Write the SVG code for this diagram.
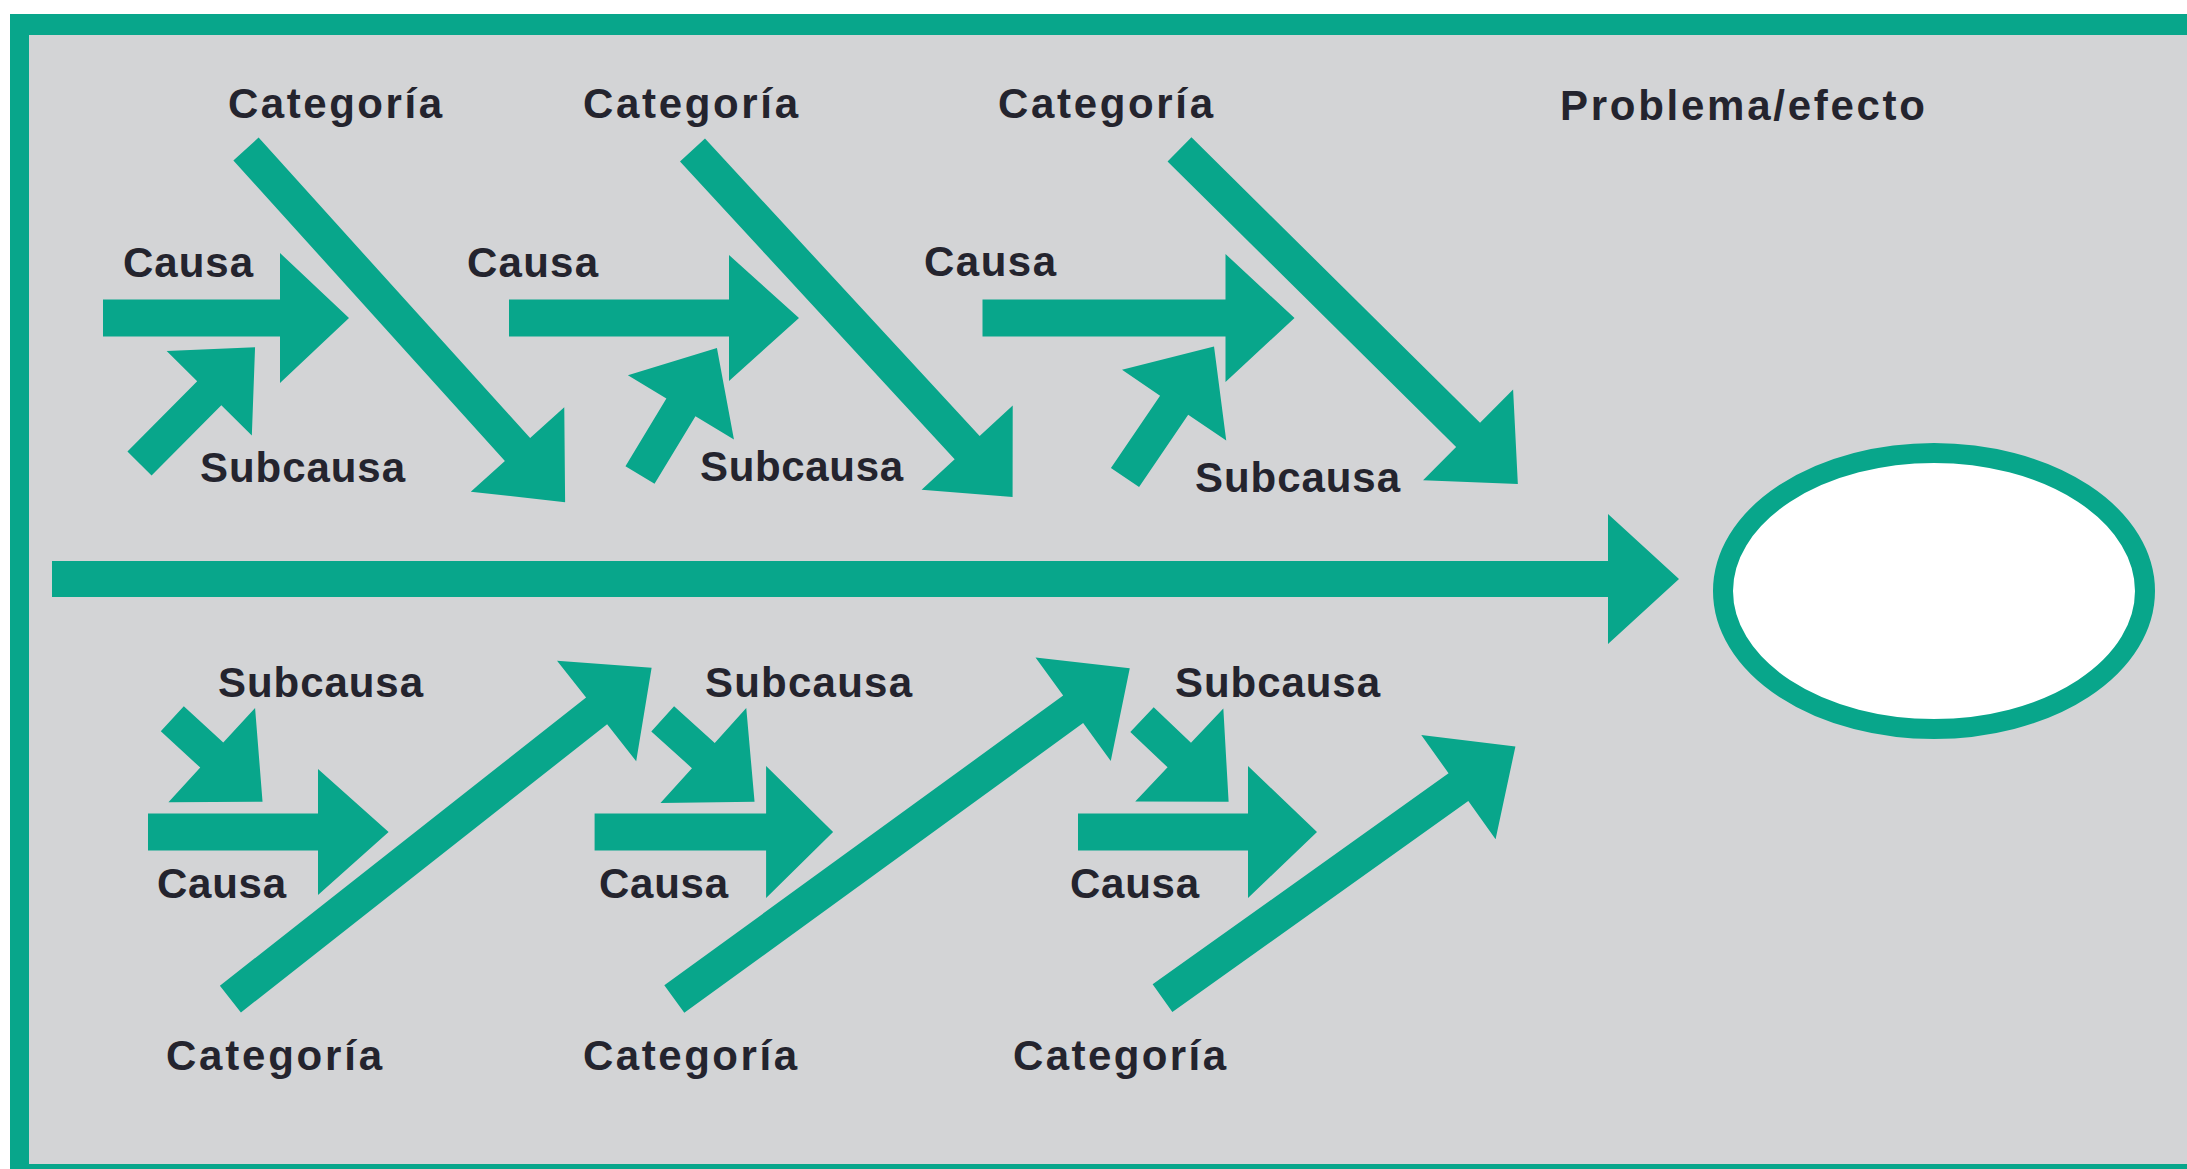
<svg xmlns="http://www.w3.org/2000/svg" width="2187" height="1169" viewBox="0 0 2187 1169">
<style>
.arrow{fill:#08a68b}
.frame{fill:#08a68b}
.lbl{font-family:"Liberation Sans",Arial,sans-serif;font-weight:bold;font-size:42px;fill:#24242e}
</style>
<rect x="0" y="0" width="2187" height="1169" fill="#ffffff"/>
<rect x="29" y="35" width="2158" height="1129" fill="#d3d4d6"/>
<rect class="frame" x="10" y="14" width="2177" height="21"/>
<rect class="frame" x="10" y="14" width="19" height="1155"/>
<rect class="frame" x="10" y="1164" width="2177" height="5"/>

<g id="connectors">
  <!-- spine -->
  <path class="arrow" transform="translate(52,579)" d="M0,-18 H1556 V-65 L1627,0 L1556,65 V18 H0 Z"/>
  <!-- top horizontal causa arrows -->
  <path class="arrow" transform="translate(103,318)" d="M0,-18.5 H177 V-65 L246,0 L177,65 V18.5 H0 Z"/>
  <path class="arrow" transform="translate(509,318)" d="M0,-18.5 H220 V-63 L290,0 L220,63 V18.5 H0 Z"/>
  <path class="arrow" transform="translate(982.5,318)" d="M0,-18.5 H243 V-64 L312,0 L243,64 V18.5 H0 Z"/>
  <!-- bottom horizontal causa arrows -->
  <path class="arrow" transform="translate(148,832)" d="M0,-18.5 H170 V-63 L240.6,0 L170,63 V18.5 H0 Z"/>
  <path class="arrow" transform="translate(594.6,832)" d="M0,-18.5 H171.5 V-66 L238.5,0 L171.5,66 V18.5 H0 Z"/>
  <path class="arrow" transform="translate(1078,832)" d="M0,-18.5 H170 V-66 L239,0 L170,66 V18.5 H0 Z"/>
  <!-- top category arrows -->
  <path class="arrow" transform="translate(246,149) rotate(47.9)" d="M0,-17 H405 V-63 L476,0 L405,63 V17 H0 Z"/>
  <path class="arrow" transform="translate(692.5,150) rotate(47.3)" d="M0,-17 H405 V-62 L472,0 L405,62 V17 H0 Z"/>
  <path class="arrow" transform="translate(1179.5,149.3) rotate(44.7)" d="M0,-17 H406 V-64 L476,0 L406,64 V17 H0 Z"/>
  <!-- bottom category arrows -->
  <path class="arrow" transform="translate(230.4,999.1) rotate(-38.2)" d="M0,-17 H466 V-64 L536,0 L466,64 V17 H0 Z"/>
  <path class="arrow" transform="translate(674.3,999.1) rotate(-36)" d="M0,-17 H493 V-64 L563,0 L493,64 V17 H0 Z"/>
  <path class="arrow" transform="translate(1162.5,998.2) rotate(-35.5)" d="M0,-17 H363.5 V-64 L433.5,0 L363.5,64 V17 H0 Z"/>
  <!-- top subcausa arrows -->
  <path class="arrow" transform="translate(139.5,463.5) rotate(-45.2)" d="M0,-17 H99 V-60 L164,0 L99,60 V17 H0 Z"/>
  <path class="arrow" transform="translate(640,475) rotate(-58.8)" d="M0,-17 H79 V-62 L148.5,0 L79,62 V17 H0 Z"/>
  <path class="arrow" transform="translate(1125,477.5) rotate(-55.8)" d="M0,-17 H87.4 V-63 L158.4,0 L87.4,63 V17 H0 Z"/>
  <!-- bottom subcausa arrows -->
  <path class="arrow" transform="translate(172.3,718.8) rotate(42.6)" d="M0,-17 H53.6 V-64 L122.6,0 L53.6,64 V17 H0 Z"/>
  <path class="arrow" transform="translate(662.7,718.8) rotate(42.1)" d="M0,-17 H54.8 V-64 L123.8,0 L54.8,64 V17 H0 Z"/>
  <path class="arrow" transform="translate(1142,719.6) rotate(43.5)" d="M0,-17 H51.4 V-64 L119.4,0 L51.4,64 V17 H0 Z"/>
</g>

<g id="effect">
  <ellipse cx="1934" cy="591" rx="211" ry="138" fill="#ffffff" stroke="#08a68b" stroke-width="20"/>
</g>
<g id="label-problema"><text class="lbl" x="1560" y="120" font-size="44" textLength="365" lengthAdjust="spacing">Problema/efecto</text></g>

<g id="top-cat-1"><text class="lbl" x="228" y="118" textLength="214" lengthAdjust="spacing">Categoría</text></g>
<g id="top-cat-2"><text class="lbl" x="583" y="118" textLength="215" lengthAdjust="spacing">Categoría</text></g>
<g id="top-cat-3"><text class="lbl" x="998" y="118" textLength="215" lengthAdjust="spacing">Categoría</text></g>

<g id="top-causa-1"><text class="lbl" x="123" y="277" textLength="130" lengthAdjust="spacing">Causa</text></g>
<g id="top-causa-2"><text class="lbl" x="467" y="277" textLength="131" lengthAdjust="spacing">Causa</text></g>
<g id="top-causa-3"><text class="lbl" x="924" y="276" textLength="132" lengthAdjust="spacing">Causa</text></g>

<g id="top-sub-1"><text class="lbl" x="200" y="482" textLength="205" lengthAdjust="spacing">Subcausa</text></g>
<g id="top-sub-2"><text class="lbl" x="700" y="481" textLength="203" lengthAdjust="spacing">Subcausa</text></g>
<g id="top-sub-3"><text class="lbl" x="1195" y="492" textLength="205" lengthAdjust="spacing">Subcausa</text></g>

<g id="bot-sub-1"><text class="lbl" x="218" y="697" textLength="205" lengthAdjust="spacing">Subcausa</text></g>
<g id="bot-sub-2"><text class="lbl" x="705" y="697" textLength="207" lengthAdjust="spacing">Subcausa</text></g>
<g id="bot-sub-3"><text class="lbl" x="1175" y="697" textLength="205" lengthAdjust="spacing">Subcausa</text></g>

<g id="bot-causa-1"><text class="lbl" x="157" y="898" textLength="129" lengthAdjust="spacing">Causa</text></g>
<g id="bot-causa-2"><text class="lbl" x="599" y="898" textLength="129" lengthAdjust="spacing">Causa</text></g>
<g id="bot-causa-3"><text class="lbl" x="1070" y="898" textLength="129" lengthAdjust="spacing">Causa</text></g>

<g id="bot-cat-1"><text class="lbl" x="166" y="1070" textLength="216" lengthAdjust="spacing">Categoría</text></g>
<g id="bot-cat-2"><text class="lbl" x="583" y="1070" textLength="214" lengthAdjust="spacing">Categoría</text></g>
<g id="bot-cat-3"><text class="lbl" x="1013" y="1070" textLength="213" lengthAdjust="spacing">Categoría</text></g>
</svg>
